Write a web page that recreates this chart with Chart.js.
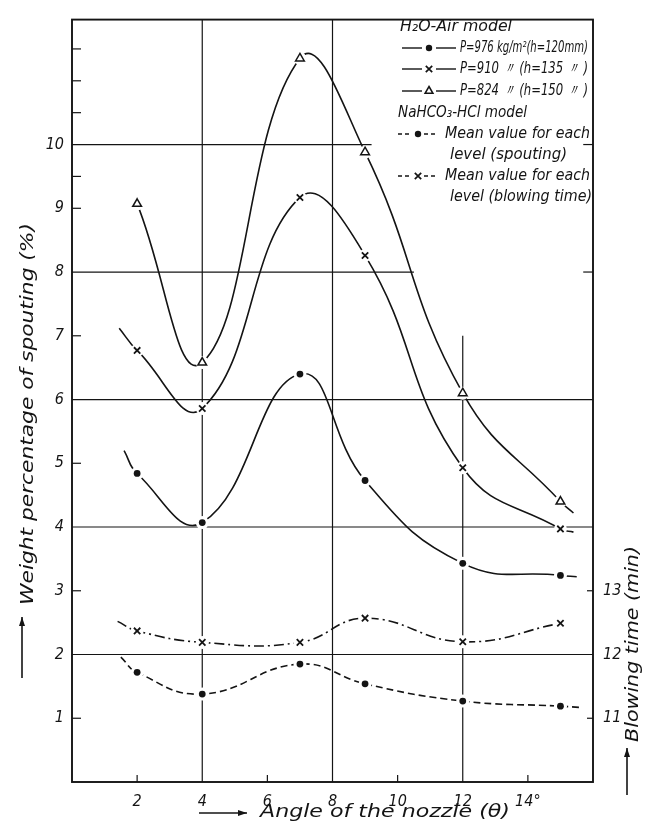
<!DOCTYPE html>
<html>
<head>
<meta charset="utf-8">
<script src="https://cdn.jsdelivr.net/npm/chart.js@4.4.1/dist/chart.umd.min.js"></script>
<style>
  html, body { margin: 0; padding: 0; background: #fff; }
  #wrap { width: 655px; height: 825px; }
</style>
</head>
<body>
<div id="wrap"><canvas id="chart" width="655" height="825"></canvas></div>
<script>
// ============================================================
// DATA
// ============================================================

const angles = [2, 4, 7, 9, 12, 15];

// H2O-Air model, weight % of spouting
const p976 = [4.84, 4.07, 6.40, 4.73, 3.43, 3.24];
const p910 = [6.77, 5.86, 9.17, 8.26, 4.93, 3.97];
const p824 = [9.07, 6.58, 11.35, 9.88, 6.10, 4.40];

// NaHCO3-HCl model
const spoutingMean = [1.72, 1.38, 1.85, 1.54, 1.27, 1.19];      // %
const blowingTimeMean = [12.37, 12.19, 12.19, 12.57, 12.20, 12.49]; // min

// where each drawn curve starts / ends beyond its first / last marker [angle, value]
const p976Ends = [[1.6, 5.20], [15.5, 3.22]];
const p910Ends = [[1.45, 7.12], [15.4, 3.92]];
const p824Ends = [null, [15.4, 4.22]];
const spoutingEnds = [[1.5, 1.96], [15.6, 1.17]];
const blowingEnds = [[1.4, 12.52], null];

// Axis ticks
const xTickValues = [2, 4, 6, 8, 10, 12, 14];
const xTickLabels = ['2', '4', '6', '8', '10', '12', '14°'];
const yTickValues = [1, 2, 3, 4, 5, 6, 7, 8, 9, 10];
const yTickLabels = ['1', '2', '3', '4', '5', '6', '7', '8', '9', '10'];
const y2TickValues = [11, 12, 13];
const y2TickLabels = ['11', '12', '13'];

// ============================================================
// LOOK
// ============================================================

const ink = '#141414';
const hand = "'DejaVu Sans Condensed', 'Liberation Sans Narrow', 'DejaVu Sans', sans-serif";
const Y_MAX = 11.96;
const Y2_OFFSET = 10;   // blowing time axis = left axis + 10

// gridline segments (value space), the drawing has some partly erased
const hGrid = [
  { y: 2, x0: 0, x1: 16 }, { y: 4, x0: 0, x1: 16 }, { y: 6, x0: 0, x1: 16 },
  { y: 8, x0: 0, x1: 10.5 }, { y: 8, x0: 15.7, x1: 16 },
  { y: 10, x0: 0, x1: 9.2 }, { y: 10, x0: 15.7, x1: 16 }
];
const vGrid = [
  { x: 4, y0: 0, y1: Y_MAX }, { x: 8, y0: 0, y1: Y_MAX }, { x: 12, y0: 0, y1: 7.0 }
];
const yMinorTicks = [1, 3, 5, 7, 9, 9.5, 10.5, 11, 11.5];
const xMinorTicks = [2, 6, 10, 14];
const y2MinorTicks = [11, 13];

// ============================================================
// HELPERS
// ============================================================

function pts(ys, ends) {
  const out = angles.map((a, i) => ({ x: a, y: ys[i] }));
  if (ends[0]) out.unshift({ x: ends[0][0], y: ends[0][1], stub: true });
  if (ends[1]) out.push({ x: ends[1][0], y: ends[1][1], stub: true });
  return out;
}

function drawMarker(ctx, kind, x, y) {
  ctx.save();
  ctx.strokeStyle = ink;
  ctx.fillStyle = ink;
  ctx.setLineDash([]);
  if (kind === 'dot') {
    ctx.beginPath(); ctx.arc(x, y, 3.2, 0, Math.PI * 2); ctx.fill();
  } else if (kind === 'cross') {
    ctx.lineWidth = 1.7;
    const r = 3.2;
    ctx.beginPath();
    ctx.moveTo(x - r, y - r); ctx.lineTo(x + r, y + r);
    ctx.moveTo(x + r, y - r); ctx.lineTo(x - r, y + r);
    ctx.stroke();
  } else if (kind === 'tri') {
    ctx.lineWidth = 1.5;
    const r = 4.5;
    ctx.beginPath();
    ctx.moveTo(x, y - r);
    ctx.lineTo(x + r * 0.87, y + r * 0.5);
    ctx.lineTo(x - r * 0.87, y + r * 0.5);
    ctx.closePath();
    ctx.stroke();
  }
  ctx.restore();
}

function line(ctx, x0, y0, x1, y1) {
  ctx.beginPath(); ctx.moveTo(x0, y0); ctx.lineTo(x1, y1); ctx.stroke();
}

function arrow(ctx, x0, y0, x1, y1) {
  ctx.save();
  ctx.strokeStyle = ink; ctx.fillStyle = ink; ctx.lineWidth = 1.6;
  line(ctx, x0, y0, x1, y1);
  const a = Math.atan2(y1 - y0, x1 - x0);
  ctx.beginPath();
  ctx.moveTo(x1, y1);
  ctx.lineTo(x1 - 9 * Math.cos(a) + 3 * Math.sin(a), y1 - 9 * Math.sin(a) - 3 * Math.cos(a));
  ctx.lineTo(x1 - 9 * Math.cos(a) - 3 * Math.sin(a), y1 - 9 * Math.sin(a) + 3 * Math.cos(a));
  ctx.closePath(); ctx.fill();
  ctx.restore();
}

// text squeezed/stretched to the width it takes in the drawing
function fitText(ctx, text, x, y, w, size, rot) {
  ctx.save();
  ctx.font = `italic ${size}px ${hand}`;
  ctx.fillStyle = ink;
  ctx.textBaseline = 'middle';
  ctx.textAlign = 'left';
  const s = w / ctx.measureText(text).width;
  ctx.translate(x, y);
  if (rot) ctx.rotate(-Math.PI / 2);
  ctx.scale(s, 1);
  ctx.fillText(text, 0, 0);
  ctx.restore();
}

// ============================================================
// PLUGIN — grid, frame, marker gaps, legend, titles
// ============================================================

const paperPlugin = {
  id: 'paper',
  beforeDatasetsDraw(chart) {
    const { ctx, chartArea: a, scales: { x, y, y2 } } = chart;
    ctx.save();
    ctx.strokeStyle = ink;
    ctx.lineWidth = 1.2;
    hGrid.forEach(g => {
      const py = y.getPixelForValue(g.y);
      line(ctx, x.getPixelForValue(g.x0), py, x.getPixelForValue(g.x1), py);
    });
    vGrid.forEach(g => {
      const px = x.getPixelForValue(g.x);
      line(ctx, px, y.getPixelForValue(g.y0), px, y.getPixelForValue(g.y1));
    });

    yMinorTicks.forEach(v => {
      const py = y.getPixelForValue(v);
      line(ctx, a.left, py, a.left + 9, py);
    });
    xMinorTicks.forEach(v => {
      const px = x.getPixelForValue(v);
      line(ctx, px, a.bottom, px, a.bottom - 7);
    });
    y2MinorTicks.forEach(v => {
      const py = y2.getPixelForValue(v);
      line(ctx, a.right, py, a.right - 6, py);
    });

    ctx.lineWidth = 1.9;
    ctx.strokeRect(a.left, a.top, a.right - a.left, a.bottom - a.top);
    ctx.restore();
  },

  // hand-drawn look: curves stop short of each marker
  afterDatasetsDraw(chart) {
    const { ctx } = chart;
    chart.data.datasets.forEach((ds, i) => {
      const meta = chart.getDatasetMeta(i);
      meta.data.forEach((pt, j) => {
        if (ds.data[j].stub) return;
        ctx.save();
        ctx.fillStyle = '#fff';
        ctx.beginPath(); ctx.arc(pt.x, pt.y, 6.5, 0, Math.PI * 2); ctx.fill();
        ctx.restore();
        pt.draw(ctx, chart.chartArea);
      });
    });
  },

  afterDraw(chart) {
    const { ctx } = chart;

    // --- legend ---
    fitText(ctx, 'H\u2082O-Air model', 400, 27, 112, 15);

    const solidRows = [
      { y: 48, mk: 'dot', text: 'P=976 kg/m\u00B2(h=120mm)' },
      { y: 69, mk: 'cross', text: 'P=910 \u3003 (h=135 \u3003 )' },
      { y: 91, mk: 'tri', text: 'P=824 \u3003 (h=150 \u3003 )' }
    ];
    solidRows.forEach(r => {
      ctx.save();
      ctx.strokeStyle = ink; ctx.lineWidth = 1.4;
      line(ctx, 402, r.y, 422, r.y);
      line(ctx, 436, r.y, 456, r.y);
      ctx.restore();
      drawMarker(ctx, r.mk, 429, r.y);
      fitText(ctx, r.text, 460, r.y, 128, 15);
    });

    fitText(ctx, 'NaHCO\u2083-HCl model', 398, 113, 129, 15);

    const dashRows = [
      { y: 134, mk: 'dot', a: 'Mean value for each', b: 'level (spouting)', bw: 117 },
      { y: 176, mk: 'cross', a: 'Mean value for each', b: 'level (blowing time)', bw: 142 }
    ];
    dashRows.forEach(r => {
      ctx.save();
      ctx.strokeStyle = ink; ctx.lineWidth = 1.3; ctx.setLineDash([4, 3]);
      line(ctx, 398, r.y, 412, r.y);
      line(ctx, 424, r.y, 438, r.y);
      ctx.restore();
      drawMarker(ctx, r.mk, 418, r.y);
      fitText(ctx, r.a, 445, r.y, 145, 15);
      fitText(ctx, r.b, 450, r.y + 21, r.bw, 15);
    });

    // --- axis titles ---
    fitText(ctx, 'Weight percentage of spouting (%)', 28, 605, 382, 18, true);
    arrow(ctx, 22, 678, 22, 617);

    fitText(ctx, 'Angle of the nozzle (\u03B8)', 260, 813, 250, 17);
    arrow(ctx, 199, 813, 247, 813);

    fitText(ctx, 'Blowing time (min)', 633, 742, 196, 18, true);
    arrow(ctx, 627, 795, 627, 748);
  }
};

// ============================================================
// CHART
// ============================================================

const tickFont = { family: hand, size: 16, style: 'italic' };

function labelFor(values, labels) {
  return v => {
    const i = values.indexOf(v);
    return i >= 0 ? labels[i] : '';
  };
}

const curve = {
  borderColor: ink,
  backgroundColor: ink,
  borderWidth: 1.6,
  tension: 0.45,
  fill: false,
  pointBorderColor: ink
};

function radius(r) {
  return c => (c.raw && c.raw.stub ? 0 : r);
}

new Chart(document.getElementById('chart').getContext('2d'), {
  type: 'line',
  data: {
    datasets: [
      { ...curve, label: 'P=976', data: pts(p976, p976Ends), yAxisID: 'y',
        pointStyle: 'circle', pointRadius: radius(3.4), pointBackgroundColor: ink, pointBorderWidth: 0 },
      { ...curve, label: 'P=910', data: pts(p910, p910Ends), yAxisID: 'y',
        pointStyle: 'crossRot', pointRadius: radius(4.5), pointBorderWidth: 1.8 },
      { ...curve, label: 'P=824', data: pts(p824, p824Ends), yAxisID: 'y',
        pointStyle: 'triangle', pointRadius: radius(5), pointBackgroundColor: '#fff', pointBorderWidth: 1.5 },
      { ...curve, label: 'spouting', data: pts(spoutingMean, spoutingEnds), yAxisID: 'y', borderDash: [7, 4],
        pointStyle: 'circle', pointRadius: radius(3.4), pointBackgroundColor: ink, pointBorderWidth: 0 },
      { ...curve, label: 'blowing time', data: pts(blowingTimeMean, blowingEnds), yAxisID: 'y2',
        borderDash: [10, 4, 2, 4],
        pointStyle: 'crossRot', pointRadius: radius(4.5), pointBorderWidth: 1.8 }
    ]
  },
  options: {
    responsive: false,
    animation: false,
    devicePixelRatio: 1,
    layout: { padding: { top: 8, left: 0, right: 0, bottom: 0 } },
    plugins: { legend: { display: false }, tooltip: { enabled: false } },
    scales: {
      x: {
        type: 'linear', min: 0, max: 16,
        grid: { display: false, drawTicks: false },
        border: { display: false },
        afterBuildTicks: s => { s.ticks = xTickValues.map(v => ({ value: v })); },
        afterFit: s => { s.height = 43; },
        ticks: { color: ink, font: tickFont, padding: 10, maxRotation: 0, autoSkip: false,
                 callback: labelFor(xTickValues, xTickLabels) }
      },
      y: {
        type: 'linear', position: 'left', min: 0, max: Y_MAX,
        grid: { display: false, drawTicks: false },
        border: { display: false },
        afterBuildTicks: s => { s.ticks = yTickValues.map(v => ({ value: v })); },
        afterFit: s => { s.width = 72; },
        ticks: { color: ink, font: tickFont, padding: 8, autoSkip: false,
                 callback: labelFor(yTickValues, yTickLabels) }
      },
      y2: {
        type: 'linear', position: 'right', min: Y2_OFFSET, max: Y2_OFFSET + Y_MAX,
        grid: { display: false, drawTicks: false },
        border: { display: false },
        afterBuildTicks: s => { s.ticks = y2TickValues.map(v => ({ value: v })); },
        afterFit: s => { s.width = 62; },
        ticks: { color: ink, font: tickFont, padding: 10, autoSkip: false,
                 callback: labelFor(y2TickValues, y2TickLabels) }
      }
    }
  },
  plugins: [paperPlugin]
});
</script>
</body>
</html>
